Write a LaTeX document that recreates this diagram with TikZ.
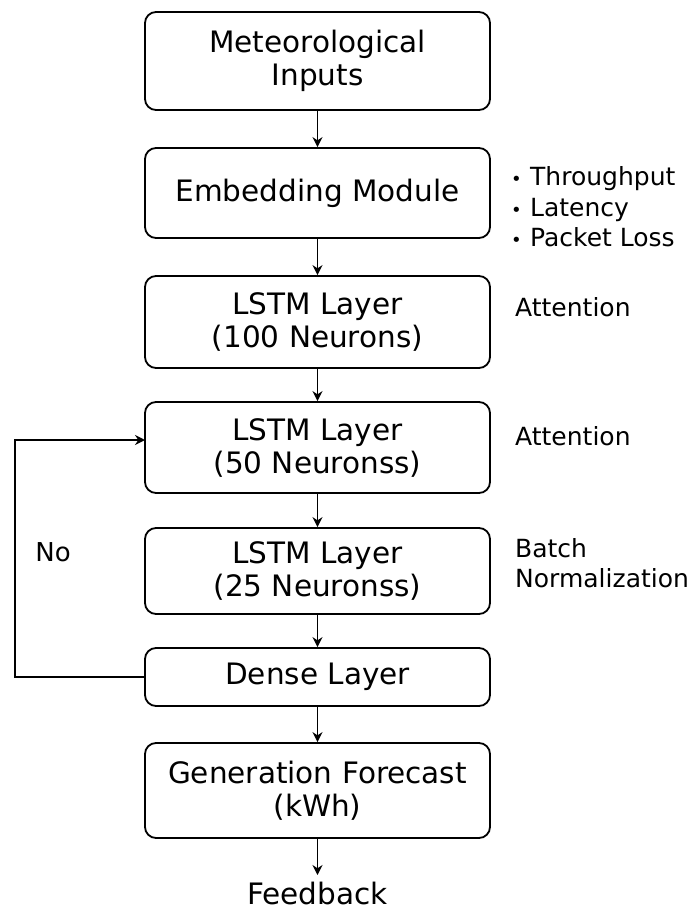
\documentclass[tikz,border=0pt]{standalone}
\usepackage{fontspec}
\setmainfont{DejaVu Sans}
\usetikzlibrary{arrows.meta}
\begin{document}
\begin{tikzpicture}[x=1pt,y=-1pt,
  box/.style={draw, line width=1.8pt, rounded corners=11pt, minimum width=345pt, inner sep=0pt, align=center, font=\fontsize{29.5}{33}\selectfont},
  side/.style={anchor=west, inner sep=0pt, align=left, font=\fontsize{25}{30.5}\selectfont},
  arr/.style={line width=1.7pt, -{Stealth[length=10pt,width=10pt]}}]
\useasboundingbox (0,0) rectangle (694,917);
\node[box, minimum height=98pt] (met) at (317.5,61) {Meteorological\\Inputs};
\node[box, minimum height=90pt] (emb) at (317.5,193) {Embedding Module};
\node[box, minimum height=92pt] (l100) at (317.5,322) {LSTM Layer\\(100 Neurons)};
\node[box, minimum height=91pt] (l50) at (317.5,447.5) {LSTM Layer\\(50 Neuronss)};
\node[box, minimum height=86pt] (l25) at (317.5,571) {LSTM Layer\\(25 Neuronss)};
\node[box, minimum height=58pt] (dense) at (317.5,677) {Dense Layer};
\node[box, minimum height=95pt] (gen) at (317.5,790.5) {Generation Forecast\\(kWh)};
\node[inner sep=0pt, outer sep=7pt, font=\fontsize{29.5}{33}\selectfont, anchor=north] (fb) at (317.5,875) {Feedback};
\node[side] (met1) at (511,207) {{\fontsize{18}{18}\selectfont•}\,\,Throughput\\{\fontsize{18}{18}\selectfont•}\,\,Latency\\{\fontsize{18}{18}\selectfont•}\,\,Packet Loss};
\node[side] (att1) at (515,307) {Attention};
\node[side] (att2) at (515,436) {Attention};
\node[side] (bn) at (515,563) {Batch\\Normalization};
\node[inner sep=0pt, font=\fontsize{26}{30}\selectfont] (no) at (53,552) {No};
\coordinate (fbx) at (15,677);
\coordinate (fbin) at (145,440);
\draw[arr] (met) -- (emb);
\draw[arr] (emb) -- (l100);
\draw[arr] (l100) -- (l50);
\draw[arr] (l50) -- (l25);
\draw[arr] (l25) -- (dense);
\draw[arr] (dense) -- (gen);
\draw[arr] (gen) -- (fb);
\draw[arr] (dense.west) -- (dense.west -| fbx) |- (fbin);
\end{tikzpicture}
\end{document}
